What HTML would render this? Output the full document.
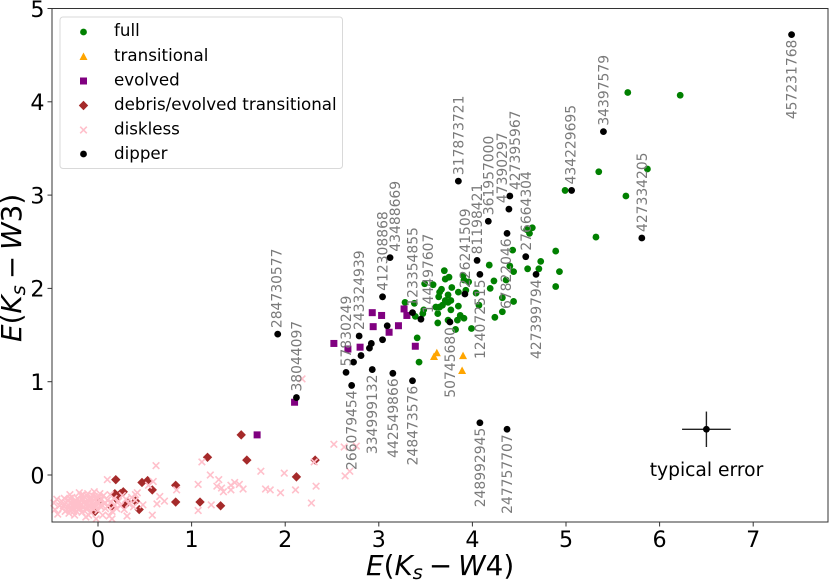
<!DOCTYPE html>
<html>
<head>
<meta charset="utf-8">
<style>
html,body{margin:0;padding:0;background:#fff;}
svg{display:block;font-family:"DejaVu Sans","Liberation Sans",sans-serif;}
</style>
</head>
<body>
<svg id="chart" xmlns="http://www.w3.org/2000/svg" width="831" height="582" viewBox="0 0 831 582">
  <g id="marks"></g>
  <rect x="52" y="8.5" width="776" height="513.5" fill="none" stroke="#333" stroke-width="1"/>
  <g id="ticks"></g>
  <text x="366" y="575" font-size="27.8" fill="#000"><tspan font-style="italic">E</tspan>(<tspan font-style="italic">K</tspan><tspan font-style="italic" font-size="19.5" dy="4">s</tspan><tspan dy="-4" dx="6">−</tspan><tspan font-style="italic" dx="6">W</tspan>4)</text>
  <text transform="translate(21,342) rotate(-90)" font-size="27.8" fill="#000"><tspan font-style="italic">E</tspan>(<tspan font-style="italic">K</tspan><tspan font-style="italic" font-size="19.5" dy="4">s</tspan><tspan dy="-4" dx="6">−</tspan><tspan font-style="italic" dx="6">W</tspan>3)</text>
  <g>
    <rect x="60" y="17" width="282.5" height="151.5" rx="3" fill="#fff" fill-opacity="0.8" stroke="#d9d9d9" stroke-width="1"/>
    <g>
      <circle cx="83.5" cy="32" r="3.4" fill="#008000"/>
      <text x="114" y="36" font-size="16.7">full</text>
    </g>
    <g>
      <polygon points="83.5,52.5 87.5,60 79.5,60" fill="#ffa500"/>
      <text x="114" y="61" font-size="16.7">transitional</text>
    </g>
    <g>
      <rect x="80" y="77.5" width="7" height="7" fill="#800080"/>
      <text x="114" y="85.5" font-size="16.7">evolved</text>
    </g>
    <g>
      <polygon points="83.5,100.8 88.2,105.5 83.5,110.2 78.8,105.5" fill="#a52a2a"/>
      <text x="114" y="110" font-size="16.7">debris/evolved transitional</text>
    </g>
    <g>
      <path d="M80.2 126.7 L86.8 133.3 M86.8 126.7 L80.2 133.3" stroke="#ffc0cb" stroke-width="1.6" fill="none"/>
      <text x="114" y="134.5" font-size="16.7">diskless</text>
    </g>
    <g>
      <circle cx="83.5" cy="154" r="3.4" fill="#000"/>
      <text x="114" y="159" font-size="16.7">dipper</text>
    </g>
  </g>
</svg>
<script>
var xTicks = [0, 1, 2, 3, 4, 5, 6, 7];
var yTicks = [0, 1, 2, 3, 4, 5];

var fullX = [3.70,3.75,3.71,3.58,3.49,3.67,3.65,3.64,3.74,3.78,3.85,3.90,3.91,3.96,3.93,4.04,4.07,4.18,4.23,4.19,4.32,4.36,4.40,4.44,4.43,4.59,4.71,4.73,4.89,4.93,4.89,4.44,4.32,4.24,3.99,3.82,3.91,3.87,3.84,3.85,3.77,3.77,3.74,3.71,3.68,3.65,3.61,3.63,3.63,3.74,3.48,3.47,3.39,3.38,3.28,3.41,3.43,4.58,4.64,4.61,4.99,5.66,6.22,5.35,5.87,5.64,5.32];
var fullY = [2.19,2.12,2.10,2.04,2.05,1.99,1.96,1.91,1.93,2.01,1.96,2.14,2.09,2.07,1.98,1.95,1.82,2.25,2.08,2.00,1.90,2.09,2.24,2.18,2.41,2.21,2.21,2.29,2.40,2.18,2.02,1.86,1.75,1.69,1.57,1.56,1.68,1.71,1.66,1.81,1.77,1.87,1.85,1.87,1.82,1.80,1.80,1.73,1.63,1.66,1.77,1.73,1.70,1.84,1.85,1.47,1.21,2.63,2.65,2.59,3.05,4.10,4.07,3.25,3.28,2.99,2.55];

var transitionalX = [3.62,3.59,3.90,3.89];
var transitionalY = [1.31,1.27,1.28,1.12];

var evolvedX = [2.52,2.67,2.80,2.94,3.11,3.21,3.39,2.10,2.93,3.03,3.27,3.30,1.70];
var evolvedY = [1.41,1.35,1.37,1.59,1.53,1.60,1.38,0.78,1.74,1.71,1.78,1.71,0.43];

var debrisX = [1.53,1.17,1.59,2.32,2.12,1.09,1.31,0.19,0.47,0.53,0.58,0.83,0.83,0.44,0.18,0.24,0.27,0.01,0.20,0.15,-0.03,0.29,0.40,0.31];
var debrisY = [0.43,0.19,0.16,0.16,-0.02,-0.29,-0.33,-0.05,-0.08,-0.06,-0.16,-0.11,-0.29,-0.37,-0.20,-0.20,-0.18,-0.27,-0.26,-0.35,-0.39,-0.32,-0.28,-0.29];

var disklessX = [1.11,1.20,1.07,1.29,1.27,1.32,1.34,1.42,1.42,1.46,1.51,1.55,1.74,1.79,1.84,1.95,1.99,2.11,2.33,2.28,1.21,1.07,2.31,2.52,2.63,2.76,2.69,2.64,2.18,0.10,0.62,0.58,0.31,0.63,0.71,0.66,0.84,0.59,0.54,0.48,0.40,0.40,0.15,-0.47,-0.46,-0.43,-0.41,-0.39,-0.38,-0.36,-0.36,-0.35,-0.33,-0.32,-0.31,-0.30,-0.29,-0.28,-0.27,-0.26,-0.25,-0.24,-0.23,-0.22,-0.21,-0.20,-0.19,-0.18,-0.17,-0.17,-0.16,-0.15,-0.14,-0.13,-0.13,-0.12,-0.11,-0.10,-0.09,-0.08,-0.08,-0.07,-0.06,-0.05,-0.04,-0.04,-0.03,-0.02,-0.01,0.00,0.01,0.02,0.03,0.04,0.05,0.06,0.07,0.08,0.10,0.11,0.13,0.14,0.15,0.17,0.18,0.20,0.22,0.24,0.26,0.28,0.30,0.33,0.36,0.38,0.42,-0.30,-0.20,-0.10,-0.25,0.12,-0.44,-0.34,-0.33,-0.31,-0.29,-0.27,-0.26,-0.24,-0.22,-0.21,-0.19,-0.18,-0.16,-0.15,-0.13,-0.12,-0.10,-0.09,-0.07,-0.06,-0.04,-0.03,-0.01,0.00,0.02,-0.37,-0.30,-0.23,-0.16,-0.11,-0.05];
var disklessY = [0.14,0.00,-0.10,-0.05,-0.12,-0.14,-0.18,-0.11,-0.16,-0.08,-0.10,-0.15,0.04,-0.15,-0.16,-0.19,0.02,-0.16,-0.12,-0.30,-0.32,-0.38,0.14,0.33,0.30,0.31,0.04,-0.01,1.03,-0.05,0.10,-0.43,-0.44,-0.31,-0.28,-0.23,-0.16,-0.07,-0.11,-0.32,-0.21,-0.27,-0.47,-0.30,-0.37,-0.42,-0.33,-0.28,-0.36,-0.25,-0.31,-0.39,-0.34,-0.27,-0.41,-0.30,-0.36,-0.24,-0.33,-0.39,-0.28,-0.31,-0.35,-0.25,-0.37,-0.29,-0.33,-0.22,-0.27,-0.40,-0.35,-0.30,-0.24,-0.32,-0.45,-0.37,-0.20,-0.28,-0.34,-0.25,-0.40,-0.30,-0.22,-0.36,-0.18,-0.27,-0.32,-0.47,-0.24,-0.38,-0.30,-0.20,-0.34,-0.26,-0.43,-0.22,-0.31,-0.36,-0.27,-0.33,-0.21,-0.29,-0.39,-0.25,-0.32,-0.36,-0.28,-0.33,-0.22,-0.37,-0.26,-0.31,-0.24,-0.34,-0.19,-0.21,-0.19,-0.43,-0.43,-0.44,-0.26,-0.30,-0.37,-0.33,-0.29,-0.36,-0.31,-0.27,-0.33,-0.29,-0.36,-0.31,-0.26,-0.34,-0.28,-0.22,-0.32,-0.26,-0.35,-0.29,-0.23,-0.35,-0.29,-0.25,-0.33,-0.33,-0.25,-0.39,-0.21,-0.35,-0.31];

var dipperX = [1.92,2.12,2.65,2.71,2.79,3.04,3.12,3.36,3.45,3.36,3.15,2.93,3.76,4.08,3.92,4.05,4.17,4.39,4.40,3.85,4.57,4.37,4.68,5.06,5.40,5.81,7.41,4.08,4.37,3.09,2.92,2.90,3.04,2.73,2.81];
var dipperY = [1.51,0.83,1.10,0.96,1.49,1.91,2.33,1.74,1.67,1.01,1.09,1.13,1.64,2.15,1.94,2.30,2.72,2.85,2.99,3.15,2.34,2.59,2.15,3.05,3.68,2.54,4.72,0.56,0.49,1.60,1.41,1.36,1.45,1.21,1.28];
var dipperLabels = ["284730577","38044097","57830249","266079454","243324939","412308868","43488669","123354855","144497607","248473576","442549866","334999132","50745680","124072515","226241509","81198421","361957000","47390297","427395967","317873721","276664304","67822046","427399794","434229695","34397579","427334205","457231768","248992945","247757707","","","","","",""];
var dipperLabelSides = ["up","up","up","down","up","up","up","up","up","down","down","down","down","down","up","up","up","up","up","up","up","down","down","up","up","up","down","down","down","","","","","",""];
var labelNudges = {"284730577":-1,"43488669":5,"144497607":7,"47390297":-7,"427395967":5,"67822046":-1,"434229695":-1};

var errorPointX = [6.5];
var errorPointY = [0.49];
var errorSizeX = [0.26];
var errorSizeY = [0.19];

var SVGNS = "http://www.w3.org/2000/svg";
var marks = document.getElementById("marks");
var ticks = document.getElementById("ticks");

function xPx(v) { return 98 + 93.6 * v; }
function yPx(v) { return 475 - 93.3 * v; }

function make(tag, parent) {
  var el = document.createElementNS(SVGNS, tag);
  parent.appendChild(el);
  return el;
}

function drawCircle(x, y, fill, name) {
  var el = make("circle", marks);
  el.setAttribute("cx", xPx(x));
  el.setAttribute("cy", yPx(y));
  el.setAttribute("r", 3.4);
  el.setAttribute("fill", fill);
  
  
}

function drawTriangle(x, y) {
  var px = xPx(x), py = yPx(y);
  var el = make("polygon", marks);
  el.setAttribute("points", px + "," + (py - 4) + " " + (px + 4) + "," + (py + 3.5) + " " + (px - 4) + "," + (py + 3.5));
  el.setAttribute("fill", "#ffa500");
  
  
}

function drawSquare(x, y) {
  var el = make("rect", marks);
  el.setAttribute("x", xPx(x) - 3.5);
  el.setAttribute("y", yPx(y) - 3.5);
  el.setAttribute("width", 7);
  el.setAttribute("height", 7);
  el.setAttribute("fill", "#800080");
  
  
}

function drawDiamond(x, y) {
  var px = xPx(x), py = yPx(y);
  var el = make("polygon", marks);
  el.setAttribute("points", px + "," + (py - 4.7) + " " + (px + 4.7) + "," + py + " " + px + "," + (py + 4.7) + " " + (px - 4.7) + "," + py);
  el.setAttribute("fill", "#a52a2a");
  
  
}

function drawCross(x, y) {
  var px = xPx(x), py = yPx(y);
  var el = make("path", marks);
  el.setAttribute("d", "M" + (px - 3.3) + " " + (py - 3.3) + "L" + (px + 3.3) + " " + (py + 3.3) + "M" + (px + 3.3) + " " + (py - 3.3) + "L" + (px - 3.3) + " " + (py + 3.3));
  el.setAttribute("stroke", "#ffc0cb");
  el.setAttribute("stroke-width", 1.6);
  el.setAttribute("fill", "none");
  
  
}

function drawDipperLabel(i) {
  var name = dipperLabels[i];
  if (!name) return;
  var side = dipperLabelSides[i];
  var nudge = labelNudges[name] || 0;
  var cx = xPx(dipperX[i]) + nudge;
  var cy = side === "up" ? yPx(dipperY[i]) - 6 : yPx(dipperY[i]) + 5;
  var el = make("text", marks);
  el.setAttribute("transform", "translate(" + (cx + 5) + "," + cy + ") rotate(-90)");
  el.setAttribute("text-anchor", side === "up" ? "start" : "end");
  el.setAttribute("font-size", 13.9);
  el.setAttribute("fill", "#7a7a7a");
  
  
  el.textContent = name;
}

function drawAxes() {
  xTicks.forEach(function (t) {
    var line = make("line", ticks);
    line.setAttribute("x1", xPx(t));
    line.setAttribute("x2", xPx(t));
    line.setAttribute("y1", 522);
    line.setAttribute("y2", 526.5);
    line.setAttribute("stroke", "#333");
    
    
    var label = make("text", ticks);
    label.setAttribute("x", xPx(t));
    label.setAttribute("y", 547);
    label.setAttribute("text-anchor", "middle");
    label.setAttribute("font-size", 22.2);
    
    
    label.textContent = t;
  });
  yTicks.forEach(function (t) {
    var line = make("line", ticks);
    line.setAttribute("x1", 47.5);
    line.setAttribute("x2", 52);
    line.setAttribute("y1", yPx(t));
    line.setAttribute("y2", yPx(t));
    line.setAttribute("stroke", "#333");
    
    
    var label = make("text", ticks);
    label.setAttribute("x", 44.5);
    label.setAttribute("y", yPx(t) + 8.3);
    label.setAttribute("text-anchor", "end");
    label.setAttribute("font-size", 22.2);
    
    
    label.textContent = t;
  });
}

function drawErrorBar() {
  var px = xPx(errorPointX[0]), py = yPx(errorPointY[0]);
  var h = make("line", marks);
  h.setAttribute("x1", xPx(errorPointX[0] - errorSizeX[0]));
  h.setAttribute("x2", xPx(errorPointX[0] + errorSizeX[0]));
  h.setAttribute("y1", py);
  h.setAttribute("y2", py);
  h.setAttribute("stroke", "#222");
  h.setAttribute("stroke-width", 1.4);
  
  
  var v = make("line", marks);
  v.setAttribute("x1", px);
  v.setAttribute("x2", px);
  v.setAttribute("y1", yPx(errorPointY[0] + errorSizeY[0]));
  v.setAttribute("y2", yPx(errorPointY[0] - errorSizeY[0]));
  v.setAttribute("stroke", "#222");
  v.setAttribute("stroke-width", 1.4);
  
  
  drawCircle(errorPointX[0], errorPointY[0], "#000", "typical-error-point");
  var t = make("text", marks);
  t.setAttribute("x", 706.5);
  t.setAttribute("y", 476);
  t.setAttribute("text-anchor", "middle");
  t.setAttribute("font-size", 18.7);
  
  
  t.textContent = "typical error";
}

fullX.forEach(function (x, i) { drawCircle(x, fullY[i], "#008000", "full-point"); });
transitionalX.forEach(function (x, i) { drawTriangle(x, transitionalY[i]); });
evolvedX.forEach(function (x, i) { drawSquare(x, evolvedY[i]); });
debrisX.forEach(function (x, i) { drawDiamond(x, debrisY[i]); });
disklessX.forEach(function (x, i) { drawCross(x, disklessY[i]); });
dipperX.forEach(function (x, i) { drawCircle(x, dipperY[i], "#000", "dipper-point"); });
dipperX.forEach(function (x, i) { drawDipperLabel(i); });
drawErrorBar();
drawAxes();
</script>
</body>
</html>
